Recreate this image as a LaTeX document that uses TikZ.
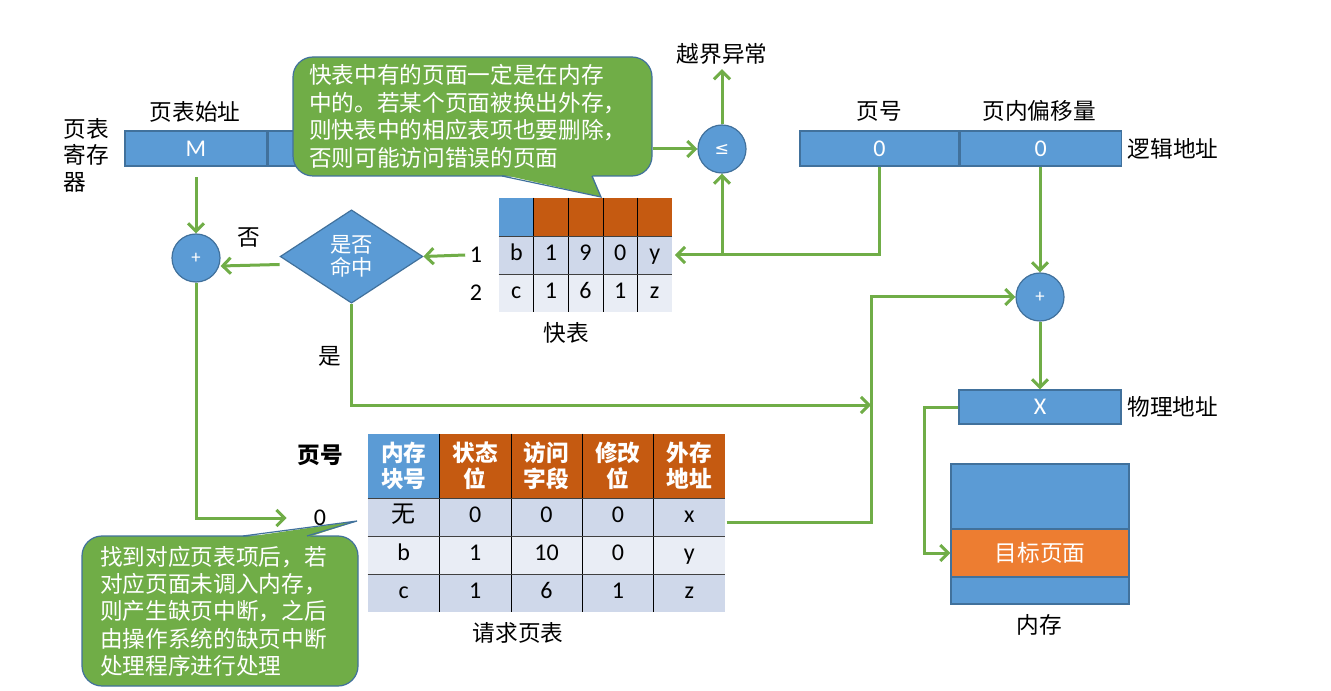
\documentclass[tikz,border=0pt]{standalone}
\usepackage{fontspec}
\setmainfont{Carlito}
\newfontfamily\cjk{Noto Sans CJK SC}
\newfontfamily\symf{DejaVu Sans}
\usepackage{tikz}
\usetikzlibrary{positioning,shapes.geometric,arrows.meta}
\definecolor{boxblue}{HTML}{5B9BD5}
\definecolor{edgeblue}{HTML}{41719C}
\definecolor{hdrorange}{HTML}{C55A11}
\definecolor{pgorange}{HTML}{ED7D31}
\definecolor{arrgreen}{HTML}{70AD47}
\definecolor{rowdark}{HTML}{CFD8EA}
\definecolor{rowlight}{HTML}{E9EDF5}

\begin{document}
\begin{tikzpicture}[x=0.75pt, y=-0.75pt,
  every node/.style={font=\fontsize{18}{21}\selectfont},
  blk/.style={draw=edgeblue, fill=boxblue, line width=0.9pt, text=white, inner sep=0pt},
  opnode/.style={blk, circle, minimum size=36pt},
  lbl/.style={font=\cjk\fontsize{17}{20}\selectfont, text=black},
  note/.style={draw=edgeblue, fill=arrgreen, line width=0.9pt, rounded corners=15pt, text=white, align=left, inner xsep=12pt, font=\cjk\fontsize{17}{20.6}\selectfont},
  flow/.style={draw=arrgreen, line width=2.25pt, -{Straight Barb[length=6pt,width=12pt]}},
  tcell/.style={inner sep=0pt, minimum width=25.95pt, minimum height=28.5pt, text height=12pt, text depth=3.5pt},
  rcell/.style={inner sep=0pt, minimum width=53.55pt, minimum height=28.5pt, text height=12pt, text depth=3.5pt},
  rhead/.style={inner sep=0pt, minimum width=53.55pt, minimum height=48pt, text=white, align=center, font=\cjk\bfseries\fontsize{17}{19.5}\selectfont},
  sep/.style={draw=black, line width=0.8pt},
  rowsep/.style={draw=black!75, line width=0.8pt}]
\useasboundingbox (0,0) rectangle (1331,691);

% page table register
\node[blk, minimum width=106.5pt, minimum height=26.25pt] (regM) at (196,148.5) {M};
\node[blk, minimum width=54pt, minimum height=26.25pt, right=0pt of regM] (regB) {};
\node[lbl] (regbase) at (195,112) {页表始址};
\node[lbl, align=left, anchor=west, font=\cjk\fontsize{17}{19.9}\selectfont] (regname) at (59,155) {页表\\寄存\\器};

% note on the TLB
\node[note, minimum width=269.25pt, minimum height=89.25pt, text width=245pt] (tip1) at (472.5,116.5)
  {快表中有的页面一定是在内存\\中的。若某个页面被换出外存，\\则快表中的相应表项也要删除，\\否则可能访问错误的页面};
\fill[arrgreen] (502,174.5) -- (601,197) -- (592,174.5) -- cycle;
\draw[edgeblue, line width=0.9pt] (502,176) -- (601,197) -- (592,176);

% bound check
\node[opnode, font=\symf\fontsize{13}{15}\selectfont] (cmp) at (722,149) {≤};
\node[lbl] (ovf) at (722,54) {越界异常};

% logical address
\node[blk, minimum width=119.25pt, minimum height=26.25pt] (lpage) at (879.5,148.5) {0};
\node[blk, minimum width=120.75pt, minimum height=26.25pt, right=0pt of lpage] (loff) {0};
\node[lbl] at (879,111) {页号};
\node[lbl] at (1039,111) {页内偏移量};
\node[lbl, right=1pt of loff] (logname) {逻辑地址};

% TLB
\node[tcell, fill=boxblue] (t-0-1) at ({499+0.5*34.6},217) {};
\foreach \c in {2,...,5}
  \node[tcell, fill=hdrorange] (t-0-\c) at ({499+(\c-0.5)*34.6},217) {};
\foreach \r/\fc/\vals in {1/rowdark/{b,1,9,0,y}, 2/rowlight/{c,1,6,1,z}}
  \foreach \v [count=\c] in \vals
    \node[tcell, fill=\fc] (t-\r-\c) at ({499+(\c-0.5)*34.6},{236+(\r-0.5)*38}) {\v};
\foreach \k in {1,...,4}
  \draw[sep] (t-0-\k.north east) -- (t-2-\k.south east);
\foreach \r in {0,1}
  \draw[rowsep] (t-\r-1.south west) -- (t-\r-5.south east);
\node (n1) at (476,255) {1};
\node (n2) at (476,293) {2};
\node[lbl] (tlbname) at (566,333) {快表};

% hit test
\node[blk, diamond, minimum width=107pt, minimum height=70pt, align=center, font=\cjk\fontsize{16}{17.5}\selectfont] (hit) at (351.5,256.5) {是否\\命中};
\node[opnode, font=\fontsize{14}{16}\selectfont] (plusL) at (196,258) {+};
\node[lbl] (no) at (249,238) {否};
\node[lbl] (yes) at (330,356) {是};

% request page table
\node[lbl, font=\cjk\bfseries\fontsize{17}{20}\selectfont] (pgno) at (320,455) {页号};
\node (pg0) at (320,518) {0};
\foreach \c/\hc/\h in {1/boxblue/{内存\\块号}, 2/hdrorange/{状态\\位}, 3/hdrorange/{访问\\字段}, 4/hdrorange/{修改\\位}, 5/hdrorange/{外存\\地址}}
  \node[rhead, fill=\hc] (r-0-\c) at ({368+(\c-0.5)*71.4},466) {\h};
\foreach \r/\fc/\vals in {1/rowdark/{{\cjk 无},0,0,0,x}, 2/rowlight/{b,1,10,0,y}, 3/rowdark/{c,1,6,1,z}}
  \foreach \v [count=\c] in \vals
    \node[rcell, fill=\fc] (r-\r-\c) at ({368+(\c-0.5)*71.4},{498+(\r-0.5)*38}) {\v};
\foreach \k in {1,...,4}
  \draw[sep] (r-0-\k.north east) -- (r-3-\k.south east);
\foreach \r in {0,1,2}
  \draw[rowsep] (r-\r-1.south west) -- (r-\r-5.south east);
\node[lbl] (reqname) at (518,633) {请求页表};

% note on page fault
\node[note, minimum width=207pt, minimum height=112.5pt, text width=180pt, inner xsep=13.5pt, font=\cjk\fontsize{17}{20.5}\selectfont] (tip2) at (220,611)
  {找到对应页表项后，若\\对应页面未调入内存，\\则产生缺页中断，之后\\由操作系统的缺页中断\\处理程序进行处理};
\fill[arrgreen] (243,537.5) -- (357,521) -- (307,537.5) -- cycle;
\draw[edgeblue, line width=0.9pt] (243,536) -- (357,521) -- (307,536);

% physical address and memory
\node[opnode, font=\fontsize{14}{16}\selectfont] (plusR) at (1040,297) {+};
\node[blk, minimum width=121.5pt, minimum height=25.5pt] (phys) at (1040,407) {X};
\node[lbl, right=1pt of phys] (physname) {物理地址};
\node[blk, minimum width=133.5pt, minimum height=105pt] (mem) at (1040,534) {};
\node[blk, fill=pgorange, minimum width=133.5pt, minimum height=36pt, font=\cjk\fontsize{17}{20}\selectfont] (tgt) at (1040,553) {目标页面};
\node[lbl] (memname) at (1039,625) {内存};

\coordinate (busin) at (871,405);
\coordinate (busup) at (871,297);

% connectors
\draw[flow, shorten <=8pt] (plusL |- regM.south) -- (plusL.north);
\draw[flow] ([yshift=-6pt]hit.west) -- ([yshift=-6pt]plusL.east);
\draw[flow] (n1.west) -- (hit.east);
\draw[flow, shorten >=2pt] (lpage.south) |- (t-1-5.east);
\draw[flow] (cmp.south |- t-1-5.east) -- (cmp.south);
\draw[flow] (tip1.east |- cmp.west) -- (cmp.west);
\draw[flow] (cmp.north) -- (ovf.south);
\draw[flow] (plusR |- loff.south) -- (plusR.north);
\draw[flow] (plusR.south) -- (phys.north);
\draw[flow] (phys.west) -- ++(-34,0) |- (tgt.west);
\draw[flow, shorten >=17pt] (plusL.south) |- (pg0.west);
\draw[flow] (hit.south) |- (busin);
\draw[flow] ([xshift=1pt,yshift=-4pt]r-1-5.east) -| (busup) -- (plusR.west);
\end{tikzpicture}
\end{document}
